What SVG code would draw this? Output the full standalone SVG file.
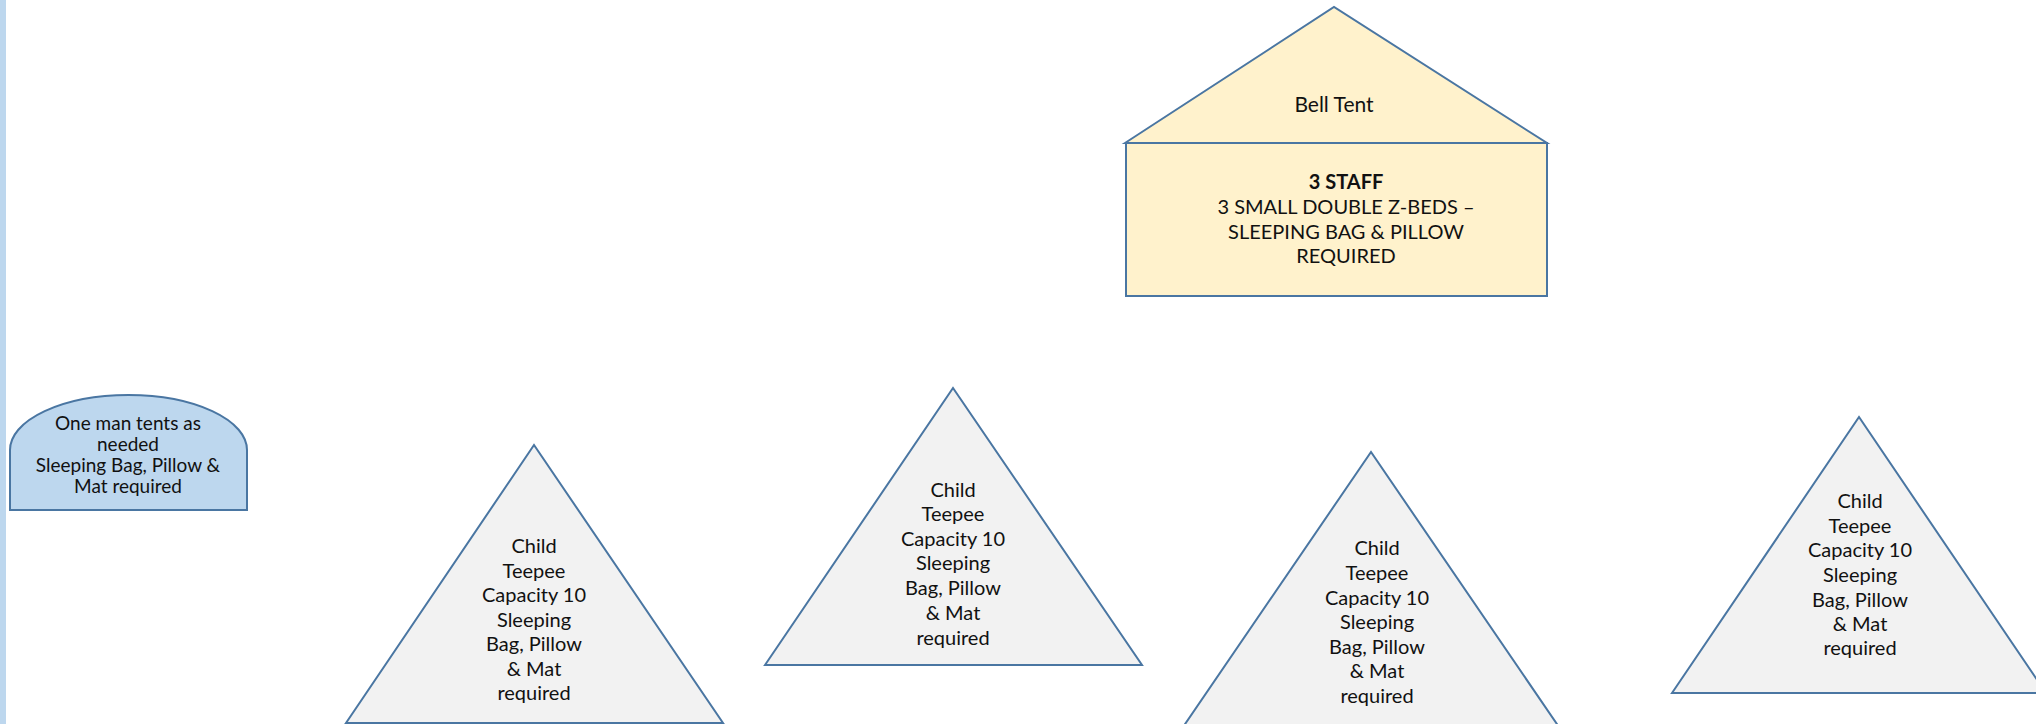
<svg xmlns="http://www.w3.org/2000/svg" width="2036" height="724" viewBox="0 0 2036 724">
<defs>
<style>
.ol{stroke:#4a76a2;stroke-width:2;stroke-linejoin:miter}
.tri{fill:#f2f2f2}
.bell{fill:#fff2cc}
.blue{fill:#bdd7ee}
text{font-family:Lato,"Liberation Sans",sans-serif;fill:#111111;text-anchor:middle}
.t20{font-size:20px}
.t21{font-size:21px}
.t17{font-size:19px}
.b{font-weight:bold}
</style>
</defs>
<rect width="2036" height="724" fill="#ffffff"/>
<rect x="0" y="0" width="6" height="724" fill="#bdd7ee"/>
<g id="connectors"/>
<g id="one-man-tent">
<path class="ol blue" d="M10,510 L10,450 A118.5 55 0 0 1 247,450 L247,510 Z"/>
<text class="t17" x="128" y="430">One man tents as</text>
<text class="t17" x="128" y="451">needed</text>
<text class="t17" x="128" y="472">Sleeping Bag, Pillow &amp;</text>
<text class="t17" x="128" y="493">Mat required</text>
</g>
<g id="bell-tent">
<polygon class="ol bell" points="1125,143 1334,7 1547,143"/>
<rect class="ol bell" x="1126" y="143" width="421" height="153"/>
<text class="t21" x="1334" y="112">Bell Tent</text>
<text class="t20 b" x="1346" y="189">3 STAFF</text>
<text class="t20" x="1346" y="214">3 SMALL DOUBLE Z-BEDS –</text>
<text class="t20" x="1346" y="239">SLEEPING BAG &amp; PILLOW</text>
<text class="t20" x="1346" y="263">REQUIRED</text>
</g>
<g id="teepee-1">
<polygon class="ol tri" points="346,723 534,445 723,723"/>
<text class="t20"><tspan x="534" y="553">Child</tspan><tspan x="534" y="578">Teepee</tspan><tspan x="534" y="602">Capacity 10</tspan><tspan x="534" y="627">Sleeping</tspan><tspan x="534" y="651">Bag, Pillow</tspan><tspan x="534" y="676">&amp; Mat</tspan><tspan x="534" y="700">required</tspan></text>
</g>
<g id="teepee-2">
<polygon class="ol tri" points="765,665 953,388 1142,665"/>
<text class="t20"><tspan x="953" y="497">Child</tspan><tspan x="953" y="521">Teepee</tspan><tspan x="953" y="546">Capacity 10</tspan><tspan x="953" y="570">Sleeping</tspan><tspan x="953" y="595">Bag, Pillow</tspan><tspan x="953" y="620">&amp; Mat</tspan><tspan x="953" y="645">required</tspan></text>
</g>
<g id="teepee-3">
<polygon class="ol tri" points="1181,730 1371,452 1561,730"/>
<text class="t20"><tspan x="1377" y="555">Child</tspan><tspan x="1377" y="580">Teepee</tspan><tspan x="1377" y="605">Capacity 10</tspan><tspan x="1377" y="629">Sleeping</tspan><tspan x="1377" y="654">Bag, Pillow</tspan><tspan x="1377" y="678">&amp; Mat</tspan><tspan x="1377" y="703">required</tspan></text>
</g>
<g id="teepee-4">
<polygon class="ol tri" points="1672,693 1859,417 2046,693"/>
<text class="t20"><tspan x="1860" y="508">Child</tspan><tspan x="1860" y="533">Teepee</tspan><tspan x="1860" y="557">Capacity 10</tspan><tspan x="1860" y="582">Sleeping</tspan><tspan x="1860" y="607">Bag, Pillow</tspan><tspan x="1860" y="631">&amp; Mat</tspan><tspan x="1860" y="655">required</tspan></text>
</g>
</svg>
